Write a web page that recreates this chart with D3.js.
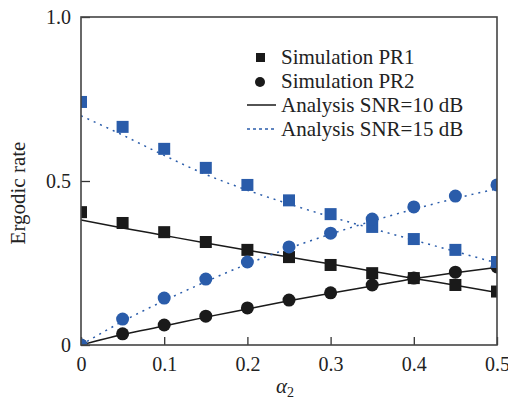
<!DOCTYPE html>
<html>
<head>
<meta charset="utf-8">
<script src="https://cdn.jsdelivr.net/npm/d3@7"></script>
<style>
  body { margin: 0; background: #fff; }
  svg text { font-family: "Liberation Serif", "Times New Roman", serif; fill: #222; }
</style>
</head>
<body>
<div id="chart"></div>
<script>
const alphas = [0, 0.05, 0.1, 0.15, 0.2, 0.25, 0.3, 0.35, 0.4, 0.45, 0.5];

// simulation points
const simPR1_10 = [0.405, 0.372, 0.344, 0.314, 0.290, 0.268, 0.244, 0.219, 0.204, 0.183, 0.163];
const simPR2_10 = [0.000, 0.034, 0.061, 0.088, 0.113, 0.137, 0.159, 0.183, 0.204, 0.222, 0.238];
const simPR1_15 = [0.741, 0.665, 0.598, 0.540, 0.488, 0.441, 0.399, 0.360, 0.323, 0.290, 0.253];
const simPR2_15 = [0.000, 0.079, 0.143, 0.201, 0.253, 0.299, 0.341, 0.384, 0.421, 0.454, 0.488];

// analysis curves
const anPR1_10 = [0.381, 0.357, 0.334, 0.311, 0.289, 0.268, 0.247, 0.225, 0.203, 0.182, 0.160];
const anPR2_10 = [0.000, 0.032, 0.058, 0.085, 0.110, 0.135, 0.158, 0.180, 0.202, 0.220, 0.237];
const anPR1_15 = [0.699, 0.640, 0.578, 0.520, 0.472, 0.430, 0.391, 0.355, 0.320, 0.285, 0.250];
const anPR2_15 = [0.000, 0.072, 0.135, 0.193, 0.247, 0.295, 0.338, 0.378, 0.414, 0.447, 0.476];

const xTicks = [0, 0.1, 0.2, 0.3, 0.4, 0.5];
const yTicks = [0, 0.5, 1.0];

const BLUE = "#2a5caa", BLACK = "#1a1a1a";

const W = 508, H = 397, pad = { t: 17, r: 11, b: 52, l: 81 };
const iW = W - pad.l - pad.r;
const iH = H - pad.t - pad.b;

const svg = d3.select("#chart").append("svg").attr("width", W).attr("height", H);
svg.append("defs").append("clipPath").attr("id", "plot-clip")
  .append("rect").attr("width", iW).attr("height", iH);
const g = svg.append("g").attr("transform", `translate(${pad.l},${pad.t})`);

const x = d3.scaleLinear().domain([0, 0.5]).range([0, iW]);
const y = d3.scaleLinear().domain([0, 1]).range([iH, 0]);

// axes (ticks inward)
const fmt = d => d === 0 ? "0" : d3.format(".1f")(d);

const xAxisG = g.append("g").attr("transform", `translate(0,${iH})`)
  .call(d3.axisBottom(x).tickValues(xTicks).tickSize(-8).tickPadding(12).tickFormat(fmt));
const yAxisG = g.append("g")
  .call(d3.axisLeft(y).tickValues(yTicks).tickSize(-9).tickPadding(10).tickFormat(fmt));
[xAxisG, yAxisG].forEach(a => {
  a.select(".domain").remove();
  a.selectAll("line").attr("stroke", "#333").attr("stroke-width", 1.3);
  a.selectAll("text").attr("font-size", 20).attr("font-family", "Liberation Serif").attr("fill", "#222");
});

const plot = g.append("g").attr("clip-path", "url(#plot-clip)");

const line = d3.line().x((d, i) => x(alphas[i])).y(d => y(d)).curve(d3.curveMonotoneX);

[[anPR1_10, BLACK, null], [anPR2_10, BLACK, null],
 [anPR1_15, BLUE, "2,5"], [anPR2_15, BLUE, "2,5"]].forEach(([vals, c, dash]) => {
  plot.append("path").datum(vals).attr("d", line)
    .attr("fill", "none").attr("stroke", c).attr("stroke-width", 1.5)
    .attr("stroke-dasharray", dash);
});

const S = 12, R = 6.5;
function squares(vals, c) {
  plot.selectAll(null).data(vals).enter().append("rect")
    .attr("x", (d, i) => x(alphas[i]) - S / 2).attr("y", d => y(d) - S / 2)
    .attr("width", S).attr("height", S).attr("fill", c);
}
function circles(vals, c) {
  plot.selectAll(null).data(vals).enter().append("circle")
    .attr("cx", (d, i) => x(alphas[i])).attr("cy", d => y(d))
    .attr("r", R).attr("fill", c);
}
squares(simPR1_10, BLACK);
circles(simPR2_10, BLACK);
squares(simPR1_15, BLUE);
circles(simPR2_15, BLUE);

// frame
g.append("rect").attr("width", iW).attr("height", iH)
  .attr("fill", "none").attr("stroke", "#444").attr("stroke-width", 1.6);

// axis labels
svg.append("text").attr("transform", `translate(25,${pad.t + iH / 2 + 12}) rotate(-90)`)
  .attr("text-anchor", "middle").attr("font-size", 21).text("Ergodic rate");
const xl = svg.append("text").attr("x", pad.l + iW / 2 - 4).attr("y", 393)
  .attr("text-anchor", "middle").attr("font-size", 21).attr("font-style", "italic");
xl.append("tspan").text("α");
xl.append("tspan").attr("font-size", 14).attr("dy", 4).attr("font-style", "normal").text("2");

// legend
const legend = [
  { label: "Simulation PR1", type: "square" },
  { label: "Simulation PR2", type: "circle" },
  { label: "Analysis SNR=10 dB", type: "solid" },
  { label: "Analysis SNR=15 dB", type: "dotted" }
];
const lg = svg.append("g");
legend.forEach((d, i) => {
  const cy = 57 + i * 24;
  if (d.type === "square") lg.append("rect").attr("x", 256).attr("y", cy - 4).attr("width", 9).attr("height", 9).attr("fill", BLACK);
  if (d.type === "circle") lg.append("circle").attr("cx", 260).attr("cy", cy + 1).attr("r", 5).attr("fill", BLACK);
  if (d.type === "solid") lg.append("line").attr("x1", 247).attr("x2", 276).attr("y1", cy).attr("y2", cy).attr("stroke", BLACK).attr("stroke-width", 1.5);
  if (d.type === "dotted") lg.append("line").attr("x1", 247).attr("x2", 276).attr("y1", cy).attr("y2", cy).attr("stroke", BLUE).attr("stroke-width", 1.3).attr("stroke-dasharray", "3,3");
  lg.append("text").attr("x", 281).attr("y", cy).attr("dy", "0.35em").attr("font-size", 21).text(d.label);
});
</script>
</body>
</html>
